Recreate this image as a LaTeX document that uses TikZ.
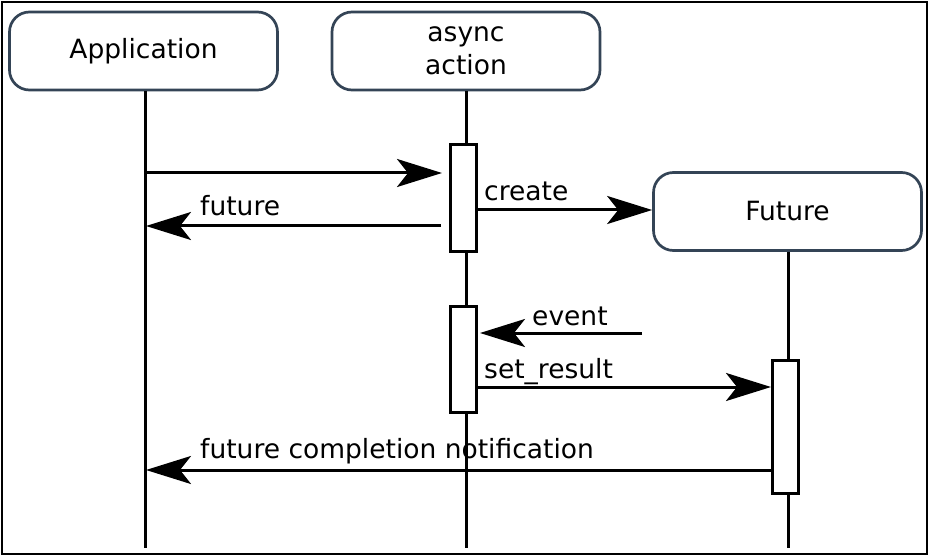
\documentclass[tikz,border=0pt]{standalone}
\usepackage{fontspec}
\setmainfont{DejaVu Sans}
\usetikzlibrary{arrows.meta}
\definecolor{boxline}{RGB}{52,68,86}
\tikzset{
  actor/.style={draw=boxline, line width=2.7pt, rounded corners=20pt, fill=white,
    minimum width=268pt, minimum height=78pt, inner sep=0pt, align=center,
    font=\fontsize{26.5}{33}\selectfont},
  lifeline/.style={line width=3pt},
  actbox/.style={draw, line width=3pt, fill=white, minimum width=26pt, inner sep=0pt},
  msg/.style={line width=3pt, -{Stealth[length=45pt, width=28pt, inset=11pt]}},
  lbl/.style={font=\fontsize{26.5}{30}\selectfont, inner sep=0pt, anchor=base west}
}
\begin{document}
\begin{tikzpicture}[x=1pt, y=-1pt]
\useasboundingbox (0,0) rectangle (929,556);
\draw[line width=2.5pt] (2,2) rectangle (927,554);

% actors
\node[actor] (app) at (143.5,51) {Application};
\node[actor] (async) at (466,51) {async\\action};
\node[actor] (fut) at (787.5,211.5) {Future};

% lifeline ends
\coordinate (append) at (145,548);
\coordinate (asyncend) at (466,548);
\coordinate (futend) at (788,548);
\draw[lifeline] (app.south -| append) -- (append);
\draw[lifeline] (async.south) -- (asyncend);
\draw[lifeline] (fut.south -| futend) -- (futend);

% activation boxes
\node[actbox, minimum height=106pt] (act1) at (463,198) {};
\node[actbox, minimum height=106pt] (act2) at (463,359.5) {};
\node[actbox, minimum height=133pt] (act3) at (785.5,426.5) {};

% messages
\coordinate (m1s) at (145,173);
\coordinate (m1e) at (442,173);
\draw[msg] (m1s) -- (m1e);

\coordinate (m2s) at (441,226);
\coordinate (m2e) at (146,226);
\draw[msg] (m2s) -- (m2e);
\node[lbl] (l2) at (200,216) {future};

\coordinate (m3s) at (477,210);
\draw[msg] (m3s) -- (fut.west |- m3s);
\node[lbl] (l3) at (484,201) {create};

\coordinate (m4s) at (642,333);
\coordinate (m4e) at (480,333);
\draw[msg] (m4s) -- (m4e);
\node[lbl] (l4) at (532,325) {event};

\coordinate (m5s) at (477,387);
\coordinate (m5e) at (771,387);
\draw[msg] (m5s) -- (m5e);
\node[lbl] (l5) at (484,378) {set\_result};

\coordinate (m6s) at (772,470);
\coordinate (m6e) at (146,470);
\draw[msg] (m6s) -- (m6e);
\node[lbl] (l6) at (200,458) {future completion notification};
\end{tikzpicture}
\end{document}
